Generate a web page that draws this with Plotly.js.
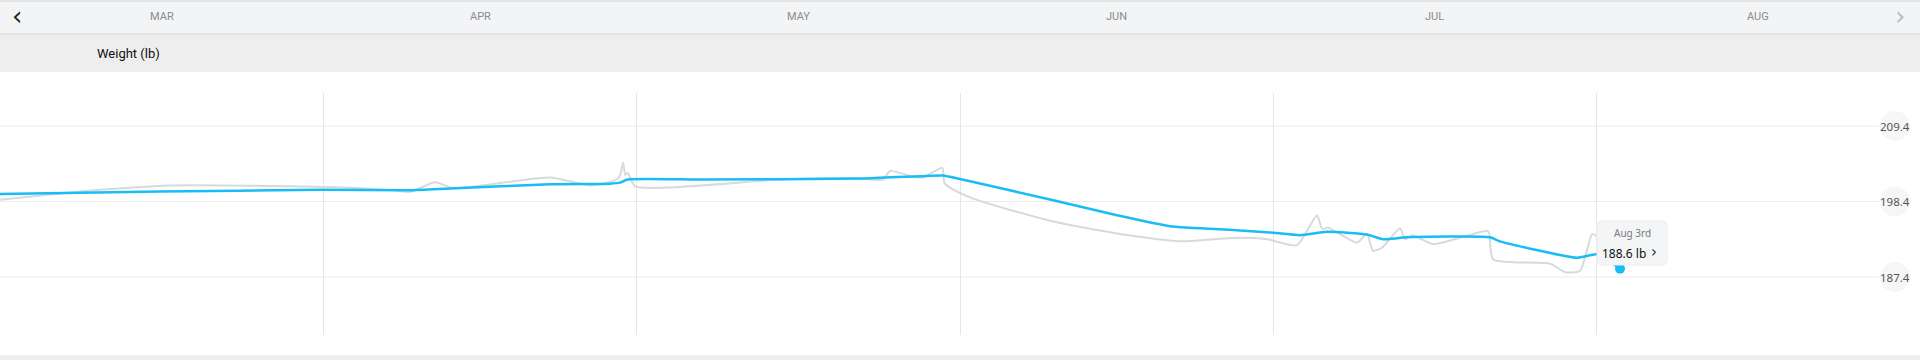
<!DOCTYPE html>
<html>
<head>
<meta charset="utf-8">
<script src="https://cdn.plot.ly/plotly-3.0.1.min.js"></script>
<style>
html,body{margin:0;padding:0;background:#fff;}
#chart{width:1920px;height:360px;}
</style>
</head>
<body>
<div id="chart"></div>
<script>
// ---- data ----
const monthLabels = ['MAR','APR','MAY','JUN','JUL','AUG'];
const monthStarts = ['2024-03-01','2024-04-01','2024-05-01','2024-06-01','2024-07-01','2024-08-01','2024-09-01'];
const yTicks = [187.4, 198.4, 209.4];

const trendDates = ['2024-03-01 00:00','2024-03-16 08:00','2024-03-31 16:00','2024-04-09 07:00','2024-04-13 03:00',
  '2024-04-22 17:00','2024-04-28 11:00','2024-04-29 10:00','2024-04-30 04:00','2024-05-07 02:00',
  '2024-05-22 17:00','2024-05-30 07:00','2024-05-31 01:00','2024-06-09 15:00','2024-06-16 01:00',
  '2024-06-21 03:00','2024-06-27 04:00','2024-06-30 17:00','2024-07-03 14:00','2024-07-06 04:00',
  '2024-07-10 00:00','2024-07-11 13:00','2024-07-13 20:00','2024-07-21 19:00','2024-07-22 18:00',
  '2024-07-30 03:00','2024-08-01 01:00','2024-08-03 06:00'];
const trendValues = [199.5,199.85,200.1,200.05,200.3,
  200.9,201.0,201.15,201.6,201.6,
  201.75,202.2,202.0,198.7,196.4,
  194.8,194.25,193.9,193.5,194.0,
  193.6,192.9,193.2,193.2,192.6,
  190.2,190.7,188.6];

const rawDates = ['2024-03-01 00:00','2024-03-10 14:00','2024-03-17 07:00','2024-04-01 15:00','2024-04-07 21:00',
  '2024-04-09 07:00','2024-04-11 17:00','2024-04-13 10:00','2024-04-22 17:00','2024-04-26 13:00',
  '2024-04-28 23:00','2024-04-29 10:00','2024-04-29 17:00','2024-04-29 22:00','2024-04-30 04:00',
  '2024-04-30 21:00','2024-05-14 18:00','2024-05-22 03:00','2024-05-24 15:00','2024-05-25 07:00',
  '2024-05-27 12:00','2024-05-28 11:00','2024-05-30 07:00','2024-05-30 13:00','2024-06-01 23:00',
  '2024-06-09 15:00','2024-06-16 01:00','2024-06-22 09:00','2024-06-27 04:00','2024-06-30 10:00',
  '2024-07-03 07:00','2024-07-05 05:00','2024-07-05 17:00','2024-07-06 06:00','2024-07-07 10:00',
  '2024-07-09 01:00','2024-07-10 00:00','2024-07-10 14:00','2024-07-11 11:00','2024-07-13 04:00',
  '2024-07-13 16:00','2024-07-14 08:00','2024-07-16 08:00','2024-07-19 14:00','2024-07-21 15:00',
  '2024-07-22 02:00','2024-07-27 13:00','2024-07-29 00:00','2024-07-30 10:00','2024-07-31 14:00',
  '2024-08-01 01:00'];
const rawValues = [198.65,200.1,200.75,200.5,200.0,
  199.8,201.2,200.35,201.9,200.75,
  201.5,202.2,204.1,202.3,202.55,
  200.6,201.6,201.8,201.6,202.85,
  202.0,201.9,203.3,201.0,199.0,
  195.6,193.75,192.6,193.1,192.9,
  192.05,196.35,194.4,194.6,193.65,
  192.4,193.65,191.2,191.7,194.5,
  192.9,193.5,192.2,193.4,194.05,
  190.0,189.35,188.1,188.3,193.65,
  193.3];

const selDate = '2024-08-03 06:00';
const selValue = 188.6;
const selLabel = 'Aug 3rd';
const selText = '188.6 lb';
const chartTitle = 'Weight (lb)';

// ---- layout helpers (pixel -> paper) ----
const W = 1920, T = 93, B = 335;
const px = x => x / W;
const py = y => (B - y) / (B - T);

const BLUE = '#19bdf6';
const GRAY = '#d6dadd';

const traces = [
  {x: rawDates, y: rawValues, type: 'scatter', mode: 'lines',
   line: {color: GRAY, width: 2, shape: 'spline', smoothing: 0.6}, hoverinfo: 'skip'},
  {x: trendDates, y: trendValues, type: 'scatter', mode: 'lines',
   line: {color: BLUE, width: 2.5, shape: 'spline', smoothing: 0.5}, hoverinfo: 'skip'},
  {x: [selDate], y: [selValue], type: 'scatter', mode: 'markers',
   marker: {color: BLUE, size: 10}, hoverinfo: 'skip'}
];

const shapes = [];
// header bands
shapes.push({type:'rect', xref:'paper', yref:'paper', x0:0, x1:1, y0:py(0), y1:py(33), fillcolor:'#f3f4f6', line:{width:0}, layer:'below'});
shapes.push({type:'rect', xref:'paper', yref:'paper', x0:0, x1:1, y0:py(0), y1:py(2), fillcolor:'#e3e4e6', line:{width:0}, layer:'below'});
shapes.push({type:'rect', xref:'paper', yref:'paper', x0:0, x1:1, y0:py(33), y1:py(35), fillcolor:'#e2e3e5', line:{width:0}, layer:'below'});
shapes.push({type:'rect', xref:'paper', yref:'paper', x0:0, x1:1, y0:py(35), y1:py(72), fillcolor:'#eeeeee', line:{width:0}, layer:'below'});
// bottom strip
shapes.push({type:'rect', xref:'paper', yref:'paper', x0:0, x1:1, y0:py(355), y1:py(361), fillcolor:'#eeeeee', line:{width:0}, layer:'below'});
// horizontal gridlines + label circles
yTicks.forEach(v => {
  shapes.push({type:'line', xref:'paper', yref:'y', x0:0, x1:px(1879), y0:v, y1:v, line:{color:'#ebebeb', width:1}, layer:'below'});
  shapes.push({type:'circle', xref:'paper', yref:'y', xsizemode:'pixel', ysizemode:'pixel',
    xanchor:px(1895), yanchor:v, x0:-15, x1:15, y0:-15, y1:15, fillcolor:'#f6f6f6', line:{width:0}, layer:'below'});
});
// tooltip box (rounded)
(function(){
  const x0=1597, x1=1667, y0=221, y1=265, r=5;
  const p = (x,y) => px(x)+','+py(y);
  const path = 'M'+p(x0+r,y0)+' L'+p(x1-r,y0)+' Q'+p(x1,y0)+' '+p(x1,y0+r)+
    ' L'+p(x1,y1-r)+' Q'+p(x1,y1)+' '+p(x1-r,y1)+' L'+p(x0+r,y1)+' Q'+p(x0,y1)+' '+p(x0,y1-r)+
    ' L'+p(x0,y0+r)+' Q'+p(x0,y0)+' '+p(x0+r,y0)+' Z';
  shapes.push({type:'path', xref:'paper', yref:'paper', path:path, fillcolor:'#f4f5f6', line:{color:'#ebecee', width:1}, layer:'above'});
})();

const annotations = [];
// month labels centred between month starts
monthLabels.forEach((m, i) => {
  const a = new Date(monthStarts[i] + 'T00:00:00Z').getTime();
  const b = new Date(monthStarts[i+1] + 'T00:00:00Z').getTime();
  const mid = new Date((a + b) / 2).toISOString().slice(0,16).replace('T',' ');
  annotations.push({x: mid, xref:'x', y: py(17), yref:'paper', text: m, showarrow:false,
    font:{family:'Roboto, sans-serif', size:11, color:'#8c8c8c'}, xanchor:'center', yanchor:'middle'});
});
// chevrons
annotations.push({x:px(17), xref:'paper', y:py(16), yref:'paper', text:'‹', showarrow:false,
  font:{family:'DejaVu Sans', size:26, color:'#222'}, xanchor:'center', yanchor:'middle'});
annotations.push({x:px(1900), xref:'paper', y:py(16), yref:'paper', text:'›', showarrow:false,
  font:{family:'DejaVu Sans', size:26, color:'#bbb'}, xanchor:'center', yanchor:'middle'});
// title
annotations.push({x:px(95), xref:'paper', y:py(54), yref:'paper', text: chartTitle, showarrow:false,
  font:{family:'Roboto, sans-serif', size:13, color:'#111'}, xanchor:'left', yanchor:'middle'});
// y labels
yTicks.forEach(v => {
  annotations.push({x:px(1895), xref:'paper', y:v, yref:'y', text: v.toFixed(1), showarrow:false,
    font:{family:'Noto Sans, sans-serif', size:11.5, color:'#555'}, xanchor:'center', yanchor:'middle'});
});
// tooltip text
annotations.push({x:px(1632), xref:'paper', y:py(233), yref:'paper', text: selLabel, showarrow:false,
  font:{family:'Noto Sans, sans-serif', size:10, color:'#7a7a7a'}, xanchor:'center', yanchor:'middle'});
annotations.push({x:px(1600), xref:'paper', y:py(253), yref:'paper', text: selText, showarrow:false,
  font:{family:'Noto Sans, sans-serif', size:12, color:'#111'}, xanchor:'left', yanchor:'middle'});
annotations.push({x:px(1654), xref:'paper', y:py(252), yref:'paper', text:'›', showarrow:false,
  font:{family:'DejaVu Sans', size:15, color:'#222'}, xanchor:'center', yanchor:'middle'});

const layout = {
  width: 1920, height: 360,
  margin: {l:0, r:0, t:T, b:360-B, pad:0},
  paper_bgcolor:'#ffffff', plot_bgcolor:'#ffffff',
  showlegend:false,
  xaxis: {type:'date', range:['2024-03-01','2024-09-01'], tickvals: monthStarts,
    showgrid:true, gridcolor:'#e6e6e6', gridwidth:1, showticklabels:false, zeroline:false,
    showline:false, ticks:'', fixedrange:true},
  yaxis: {range:[178.95, 214.21], showgrid:false, zeroline:false, showticklabels:false,
    showline:false, ticks:'', fixedrange:true},
  shapes: shapes,
  annotations: annotations
};

Plotly.newPlot('chart', traces, layout, {displayModeBar:false, staticPlot:true});
</script>
</body>
</html>
